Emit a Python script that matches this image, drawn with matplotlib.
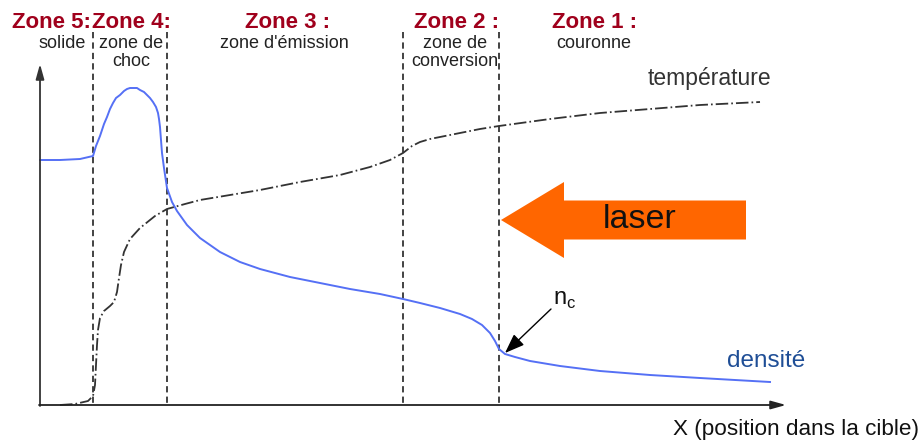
import matplotlib
matplotlib.use("Agg")
import matplotlib.pyplot as plt
from matplotlib.patches import FancyArrow

plt.rcParams['font.family'] = ['Liberation Sans', 'DejaVu Sans']
plt.rcParams['lines.scale_dashes'] = False

# schematic curves (x to the right, y downward in pixels)
dens_x = [40, 60, 80, 93, 96, 100, 104, 107, 110, 113, 116, 120, 124, 127, 130, 133,
          137, 140, 144, 147, 150, 153, 156, 158, 159, 160, 161, 162, 164, 167, 172,
          177, 187, 200, 220, 240, 260, 290, 320, 350, 380, 403, 420, 440, 460, 472,
          482, 490, 495, 499, 505, 515, 530, 560, 600, 650, 700, 770]
dens_y = [160, 160, 159, 156, 146, 136, 124, 117, 109, 103, 98, 95, 91, 89, 88, 88,
          88, 90, 92, 95, 98, 102, 107, 113, 119, 127, 140, 153, 168, 188, 202,
          211, 225, 238, 252, 262, 269, 277, 283, 289, 294, 299, 303, 308, 314, 319,
          325, 333, 341, 349, 354, 357, 361, 366, 371, 375, 378, 382]

temp_x = [60, 75, 88, 93, 95, 96, 97, 98, 100, 104, 110, 114, 117, 119, 121, 124,
          130, 140, 155, 167, 185, 200, 230, 260, 300, 340, 370, 390, 403, 412, 420,
          430, 440, 460, 480, 499, 550, 600, 650, 700, 760]
temp_y = [405, 404, 401, 396, 385, 365, 345, 330, 318, 311, 306, 302, 292, 278, 265, 252,
          239, 228, 216, 209, 204, 200, 195, 190, 182, 175, 167, 160, 153, 146, 142,
          139, 137, 133, 129, 126, 119, 113, 109, 105, 102]

zone_x = [93, 167, 403, 499]
zone_titles = ["Zone 5:", "Zone 4:", "Zone 3 :", "Zone 2 :", "Zone 1 :"]
zone_title_x = [52, 131, 288, 457, 595]
zone_sub = ["solide", "zone de\nchoc", "zone d'émission", "zone de\nconversion", "couronne"]
zone_sub_x = [62, 131, 284, 455, 594]

fig = plt.figure(figsize=(9.19, 4.41), dpi=100)
ax = fig.add_axes([0, 0, 1, 1])
ax.set_xlim(0, 919)
ax.set_ylim(441, 0)
ax.axis('off')

# axes arrows
ax.annotate('', xy=(40, 64), xytext=(40, 406),
            arrowprops=dict(arrowstyle='-|>,head_length=0.9,head_width=0.25',
                            color='#333333', lw=1.3, shrinkA=0, shrinkB=0))
ax.annotate('', xy=(786, 405), xytext=(39, 405),
            arrowprops=dict(arrowstyle='-|>,head_length=0.9,head_width=0.25',
                            color='#222222', lw=1.3, shrinkA=0, shrinkB=0))

# zone boundaries
for xz in zone_x:
    ax.plot([xz, xz], [32, 405], color='#222222', lw=1.2, dashes=(4.5, 3))

ax.plot(dens_x, dens_y, color='#5570f5', lw=1.4, solid_joinstyle='round')
ax.plot(temp_x, temp_y, color='#333333', lw=1.3, dashes=(9, 2.2, 1.2, 2.2))

for t, xt in zip(zone_titles, zone_title_x):
    ax.text(xt, 22, t, ha='center', va='center', fontsize=16, fontweight='bold',
            color='#a0001c')
for t, xt in zip(zone_sub, zone_sub_x):
    ax.text(xt, 35, t, ha='center', va='top', fontsize=13, color='#222222',
            linespacing=1.05)

ax.text(648, 78, 'température', ha='left', va='center', fontsize=16.5, color='#333333')
ax.text(727, 361, 'densité', ha='left', va='center', fontsize=17.5, color='#1f4e96')
ax.text(673, 429, 'X (position dans la cible)', ha='left', va='center', fontsize=16.2,
        color='#111111')

# laser arrow
ax.add_patch(FancyArrow(746, 220, -245, 0, width=39, head_width=76, head_length=63,
                        length_includes_head=True, color='#ff6600', lw=0))
ax.text(640, 219, 'laser', ha='center', va='center', fontsize=24.5, color='#111111')

# critical density marker
ax.annotate('', xy=(505, 353), xytext=(551, 309),
            arrowprops=dict(arrowstyle='-|>,head_length=1.2,head_width=0.45',
                            color='black', lw=1.0, shrinkA=0, shrinkB=0))
ax.text(553, 300, r'n$_\mathregular{c}$', ha='left', va='center', fontsize=17,
        color='#111111')

fig.savefig('out.png', dpi=100)
